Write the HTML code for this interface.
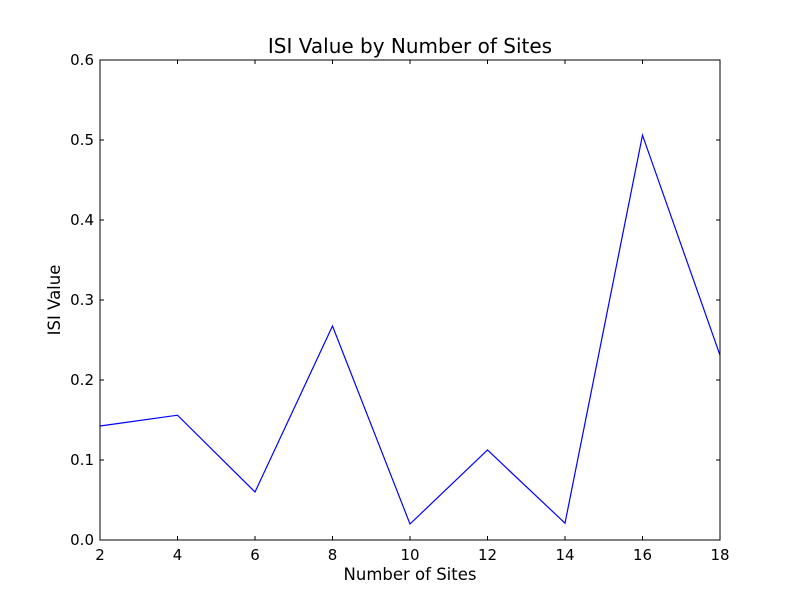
<!DOCTYPE html>
<html><head><meta charset="utf-8"><style>
body{margin:0;background:#fff;}
svg text{font-family:"DejaVu Sans","Liberation Sans",sans-serif;}
</style></head><body>
<svg id="chart" width="800" height="600" xmlns="http://www.w3.org/2000/svg">
<rect width="800" height="600" fill="#fff"/>
<text x="410" y="53" font-size="20" text-anchor="middle">ISI Value by Number of Sites</text>
<text x="410" y="580" font-size="16.5" text-anchor="middle">Number of Sites</text>
<text x="60" y="300" font-size="16.5" text-anchor="middle" transform="rotate(-90 60 300)">ISI Value</text>
<g id="ticks"></g>
<polyline id="series" fill="none" stroke="#0000ff" stroke-width="1.2"/>
<rect x="100" y="60" width="620" height="480" fill="none" stroke="#000" stroke-width="1"/>
</svg>
<script>
const sites = [2,4,6,8,10,12,14,16,18];
const isiValues = [0.1425,0.156,0.06,0.2675,0.02,0.1125,0.021,0.506,0.231];
const xTicks = [2,4,6,8,10,12,14,16,18];
const yTicks = [0.0,0.1,0.2,0.3,0.4,0.5,0.6];
const X0=100,X1=720,Y0=540,Y1=60;
function xs(v){return X0+(v-2)/(18-2)*(X1-X0);}
function ys(v){return Y0-(v-0)/(0.6-0)*(Y0-Y1);}
const NS="http://www.w3.org/2000/svg";
const g=document.getElementById('ticks');
function line(x1,y1,x2,y2){const l=document.createElementNS(NS,'line');l.setAttribute('x1',x1);l.setAttribute('y1',y1);l.setAttribute('x2',x2);l.setAttribute('y2',y2);l.setAttribute('stroke','#000');g.appendChild(l);return l;}
function txt(x,y,s,anchor){const t=document.createElementNS(NS,'text');t.setAttribute('x',x);t.setAttribute('y',y);t.setAttribute('font-size','15');t.setAttribute('text-anchor',anchor);t.textContent=s;g.appendChild(t);return t;}
xTicks.forEach(v=>{const x=xs(v);
const a=line(x,Y0,x,Y0-4);
const b=line(x,Y1,x,Y1+4);
const t=txt(x,Y0+20,String(v),'middle');});
yTicks.forEach(v=>{const y=ys(v);
const a=line(X0,y,X0+4,y);
const b=line(X1,y,X1-4,y);
const t=txt(X0-6,y+5,v.toFixed(1),'end');});
document.getElementById('series').setAttribute('points',sites.map((s,i)=>xs(s)+','+ys(isiValues[i])).join(' '));
</script>
</body></html>
